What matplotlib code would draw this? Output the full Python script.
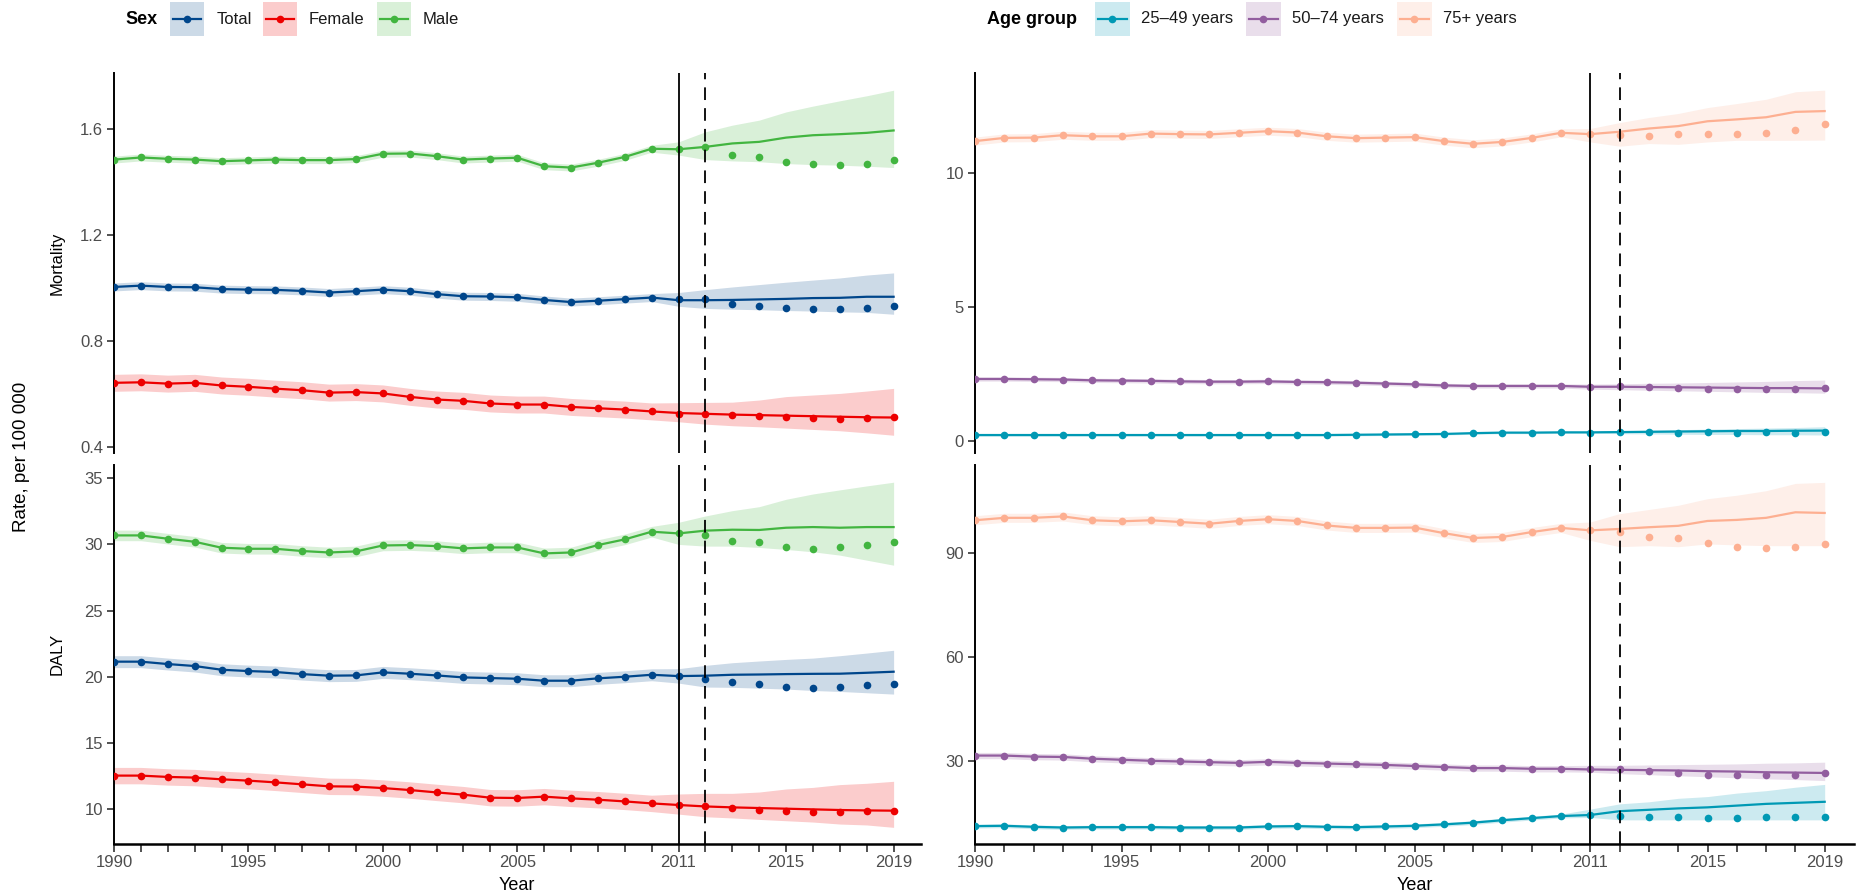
import matplotlib
matplotlib.use("Agg")
import matplotlib.pyplot as plt
from matplotlib.patches import Rectangle
import numpy as np

plt.rcParams['font.family'] = ['Liberation Sans', 'DejaVu Sans']

# ---------------- data ----------------
years = list(range(1990, 2020))
proj_years = list(range(2011, 2020))
xtick_labels = {1990: "1990", 1995: "1995", 2000: "2000", 2005: "2005",
                2011: "2011", 2015: "2015", 2019: "2019"}

sex_labels = ["Total", "Female", "Male"]
age_labels = ["25\u201349 years", "50\u201374 years", "75+ years"]

# Mortality by sex (observed 1990-2019)
mort_total_obs = [1.004, 1.009, 1.004, 1.003, 0.996, 0.994, 0.993, 0.989, 0.983, 0.988,
                  0.994, 0.988, 0.977, 0.969, 0.968, 0.965, 0.955, 0.947, 0.952, 0.958,
                  0.964, 0.959, 0.957, 0.940, 0.934, 0.926, 0.921, 0.921, 0.926, 0.933]
mort_total_proj = [0.954, 0.954, 0.955, 0.957, 0.959, 0.962, 0.963, 0.967, 0.967]
mort_total_lo = [0.931, 0.923, 0.920, 0.918, 0.915, 0.913, 0.910, 0.908, 0.901]
mort_total_hi = [0.983, 0.994, 1.004, 1.013, 1.022, 1.030, 1.038, 1.049, 1.057]
mort_total_band = 0.015

mort_female_obs = [0.642, 0.644, 0.639, 0.642, 0.632, 0.627, 0.620, 0.614, 0.605, 0.607,
                   0.602, 0.589, 0.579, 0.574, 0.564, 0.560, 0.560, 0.551, 0.546, 0.541,
                   0.534, 0.526, 0.524, 0.519, 0.516, 0.513, 0.510, 0.507, 0.510, 0.512]
mort_female_proj = [0.528, 0.525, 0.522, 0.520, 0.518, 0.516, 0.514, 0.512, 0.511]
mort_female_lo = [0.495, 0.486, 0.480, 0.476, 0.471, 0.466, 0.461, 0.453, 0.444]
mort_female_hi = [0.567, 0.568, 0.569, 0.577, 0.590, 0.596, 0.602, 0.611, 0.621]
mort_female_band = 0.032

mort_male_obs = [1.485, 1.493, 1.488, 1.485, 1.479, 1.482, 1.485, 1.483, 1.483, 1.487,
                 1.507, 1.508, 1.498, 1.485, 1.489, 1.492, 1.460, 1.455, 1.473, 1.495,
                 1.526, 1.524, 1.531, 1.504, 1.495, 1.477, 1.469, 1.466, 1.469, 1.482]
mort_male_proj = [1.524, 1.533, 1.546, 1.552, 1.568, 1.577, 1.581, 1.586, 1.595]
mort_male_lo = [1.502, 1.485, 1.480, 1.477, 1.470, 1.466, 1.464, 1.460, 1.455]
mort_male_hi = [1.552, 1.590, 1.615, 1.634, 1.665, 1.687, 1.707, 1.726, 1.747]
mort_male_band = 0.013

# DALY by sex
daly_total_obs = [21.14, 21.14, 20.96, 20.81, 20.53, 20.43, 20.36, 20.20, 20.08, 20.10,
                  20.33, 20.23, 20.10, 19.95, 19.90, 19.85, 19.70, 19.70, 19.88, 20.00,
                  20.15, 20.05, 19.85, 19.57, 19.47, 19.24, 19.17, 19.24, 19.35, 19.47]
daly_total_proj = [20.05, 20.08, 20.15, 20.17, 20.20, 20.22, 20.23, 20.30, 20.38]
daly_total_lo = [19.52, 19.22, 19.20, 19.14, 19.07, 18.96, 18.89, 18.79, 18.69]
daly_total_hi = [20.61, 20.86, 21.06, 21.19, 21.31, 21.41, 21.59, 21.79, 22.00]
daly_total_band = 0.45

daly_female_obs = [12.53, 12.53, 12.43, 12.38, 12.25, 12.15, 12.02, 11.87, 11.72, 11.70,
                   11.59, 11.44, 11.26, 11.09, 10.86, 10.84, 10.94, 10.81, 10.71, 10.58,
                   10.43, 10.31, 10.20, 10.05, 9.95, 9.85, 9.80, 9.78, 9.83, 9.85]
daly_female_proj = [10.31, 10.20, 10.13, 10.08, 10.03, 9.98, 9.93, 9.90, 9.88]
daly_female_lo = [9.62, 9.42, 9.33, 9.22, 9.12, 9.02, 8.87, 8.80, 8.62]
daly_female_hi = [11.14, 11.19, 11.19, 11.29, 11.52, 11.64, 11.85, 11.95, 12.10]
daly_female_band = 0.62

daly_male_obs = [30.68, 30.68, 30.43, 30.20, 29.75, 29.67, 29.67, 29.50, 29.39, 29.47,
                 29.92, 29.95, 29.87, 29.70, 29.77, 29.77, 29.32, 29.39, 29.95, 30.38,
                 30.96, 30.83, 30.73, 30.25, 30.15, 29.77, 29.67, 29.77, 29.95, 30.18]
daly_male_proj = [30.83, 31.04, 31.11, 31.09, 31.26, 31.31, 31.26, 31.31, 31.31]
daly_male_lo = [30.00, 29.87, 29.87, 29.77, 29.62, 29.44, 29.19, 28.81, 28.43]
daly_male_hi = [31.67, 32.15, 32.55, 32.85, 33.41, 33.81, 34.12, 34.42, 34.70]
daly_male_band = 0.40

# Mortality by age group
mort_a1_obs = [0.22, 0.22, 0.22, 0.22, 0.22, 0.22, 0.22, 0.22, 0.22, 0.22,
               0.22, 0.22, 0.22, 0.23, 0.24, 0.25, 0.26, 0.29, 0.31, 0.31,
               0.32, 0.31, 0.32, 0.32, 0.31, 0.32, 0.31, 0.32, 0.31, 0.32]
mort_a1_proj = [0.32, 0.33, 0.34, 0.35, 0.36, 0.37, 0.37, 0.38, 0.385]
mort_a1_lo = [0.29, 0.27, 0.26, 0.25, 0.24, 0.24, 0.23, 0.23, 0.22]
mort_a1_hi = [0.35, 0.38, 0.40, 0.42, 0.44, 0.46, 0.48, 0.50, 0.53]
mort_a1_band = 0.04

mort_a2_obs = [2.31, 2.31, 2.30, 2.29, 2.26, 2.25, 2.24, 2.22, 2.21, 2.21,
               2.22, 2.20, 2.19, 2.17, 2.14, 2.11, 2.07, 2.05, 2.05, 2.05,
               2.05, 2.02, 2.05, 2.00, 1.97, 1.94, 1.93, 1.93, 1.94, 1.96]
mort_a2_proj = [2.02, 2.02, 2.01, 2.00, 1.99, 1.98, 1.97, 1.97, 1.96]
mort_a2_lo = [1.93, 1.91, 1.89, 1.87, 1.85, 1.83, 1.81, 1.80, 1.78]
mort_a2_hi = [2.12, 2.13, 2.15, 2.16, 2.18, 2.20, 2.22, 2.25, 2.27]
mort_a2_band = 0.08

mort_a3_obs = [11.18, 11.30, 11.31, 11.40, 11.36, 11.36, 11.46, 11.44, 11.43, 11.49,
               11.55, 11.50, 11.36, 11.29, 11.31, 11.33, 11.18, 11.08, 11.15, 11.30,
               11.49, 11.44, 11.40, 11.36, 11.44, 11.43, 11.43, 11.48, 11.61, 11.80]
mort_a3_proj = [11.44, 11.53, 11.65, 11.74, 11.92, 11.99, 12.07, 12.27, 12.30]
mort_a3_lo = [11.15, 10.99, 11.09, 11.06, 11.15, 11.21, 11.21, 11.21, 11.22]
mort_a3_hi = [11.65, 11.87, 12.06, 12.21, 12.43, 12.58, 12.74, 13.02, 13.08]
mort_a3_band = 0.15

# DALY by age group
daly_a1_obs = [11.4, 11.5, 11.2, 11.0, 11.1, 11.1, 11.1, 11.0, 11.0, 11.0,
               11.3, 11.4, 11.2, 11.1, 11.3, 11.5, 11.9, 12.4, 13.1, 13.7,
               14.3, 14.6, 14.2, 13.9, 14.0, 13.7, 13.7, 13.9, 14.0, 14.1]
daly_a1_proj = [14.6, 15.7, 16.1, 16.5, 16.8, 17.3, 17.8, 18.1, 18.4]
daly_a1_lo = [13.9, 13.2, 13.2, 13.2, 13.2, 13.2, 13.2, 13.2, 13.2]
daly_a1_hi = [16.3, 17.8, 18.4, 19.4, 19.9, 20.9, 21.6, 22.6, 23.4]
daly_a1_band = 0.55

daly_a2_obs = [31.7, 31.7, 31.4, 31.3, 30.8, 30.5, 30.2, 30.0, 29.8, 29.6,
               29.9, 29.6, 29.4, 29.2, 29.0, 28.7, 28.4, 28.1, 28.1, 27.9,
               27.9, 27.7, 27.9, 27.2, 26.6, 26.1, 26.0, 26.0, 26.1, 26.6]
daly_a2_proj = [27.7, 27.6, 27.5, 27.4, 27.2, 27.1, 26.9, 26.8, 26.7]
daly_a2_lo = [26.9, 26.5, 26.2, 25.9, 25.6, 25.3, 25.0, 24.8, 24.5]
daly_a2_hi = [28.9, 28.9, 29.0, 29.1, 29.2, 29.3, 29.5, 29.6, 29.8]
daly_a2_band = 0.9

daly_a3_obs = [99.4, 100.1, 100.1, 100.5, 99.4, 99.1, 99.4, 98.9, 98.4, 99.2,
               99.7, 99.2, 97.9, 97.2, 97.2, 97.3, 95.7, 94.3, 94.6, 96.0,
               97.2, 96.5, 95.9, 94.5, 94.2, 92.8, 91.8, 91.4, 91.8, 92.7]
daly_a3_proj = [96.5, 96.9, 97.4, 97.8, 99.2, 99.5, 100.1, 101.7, 101.5]
daly_a3_lo = [93.6, 91.8, 92.1, 91.8, 92.6, 92.3, 92.1, 92.1, 92.1]
daly_a3_hi = [98.9, 101.3, 102.5, 103.7, 105.6, 106.6, 107.9, 110.0, 110.3]
daly_a3_band = 1.3

# ---------------- style ----------------
C_TOTAL, C_FEMALE, C_MALE = "#00468B", "#ED0000", "#42B540"
C_A1, C_A2, C_A3 = "#0099B4", "#925E9F", "#FDAF91"
sex_colors = [C_TOTAL, C_FEMALE, C_MALE]
age_colors = [C_A1, C_A2, C_A3]

W, H = 1858, 896
fig = plt.figure(figsize=(W / 100, H / 100), dpi=100)


def ax_px(l, t, r, b):
    return fig.add_axes([l / W, 1 - b / H, (r - l) / W, (b - t) / H])


ax_tl = ax_px(114, 73, 920.5, 453)
ax_bl = ax_px(114, 465, 920.5, 843.5)
ax_tr = ax_px(975, 73, 1854, 453)
ax_br = ax_px(975, 465, 1854, 843.5)

N_HIST = 21  # 1990..2010 use observed for line & band


def draw_series(ax, obs, proj, lo, hi, band, color):
    xs = years[:N_HIST] + proj_years
    hist = np.array(obs[:N_HIST])
    lower = list(hist - band) + list(lo)
    upper = list(hist + band) + list(hi)
    ax.fill_between(xs, lower, upper, color=color, alpha=0.2, lw=0, zorder=1)
    ax.plot(xs, obs[:N_HIST] + proj, color=color, lw=1.6, zorder=3,
            solid_joinstyle='round')
    ax.plot(years, obs, 'o', color=color, ms=5.5, mew=0, zorder=4)


def style_axis(ax, ylim, yticks, yticklabels, bottom):
    ax.set_xlim(1990, 2020)
    ax.set_ylim(*ylim)
    ax.set_yticks(yticks)
    ax.set_yticklabels(yticklabels)
    for s in ['top', 'right']:
        ax.spines[s].set_visible(False)
    ax.spines['left'].set_linewidth(1.4)
    ax.tick_params(axis='y', length=5, width=1.2, color='#333333',
                   labelsize=12, labelcolor='#4d4d4d', pad=3)
    ax.axvline(2011, color='black', lw=1.3, zorder=5)
    ax.axvline(2012, color='black', lw=1.3, ls=(0, (7, 4.5)), zorder=5)
    if bottom:
        ax.spines['bottom'].set_linewidth(1.8)
        ax.set_xticks(years)
        ax.set_xticklabels([xtick_labels.get(y, "") for y in years])
        ax.tick_params(axis='x', length=5.5, width=1.2, color='#333333',
                       labelsize=12, labelcolor='#4d4d4d', pad=3)
    else:
        ax.spines['bottom'].set_visible(False)
        ax.set_xticks([])
    ax.patch.set_alpha(0)


# left: by sex
for obs, proj, lo, hi, band, c in [
        (mort_total_obs, mort_total_proj, mort_total_lo, mort_total_hi, mort_total_band, C_TOTAL),
        (mort_female_obs, mort_female_proj, mort_female_lo, mort_female_hi, mort_female_band, C_FEMALE),
        (mort_male_obs, mort_male_proj, mort_male_lo, mort_male_hi, mort_male_band, C_MALE)]:
    draw_series(ax_tl, obs, proj, lo, hi, band, c)
for obs, proj, lo, hi, band, c in [
        (daly_total_obs, daly_total_proj, daly_total_lo, daly_total_hi, daly_total_band, C_TOTAL),
        (daly_female_obs, daly_female_proj, daly_female_lo, daly_female_hi, daly_female_band, C_FEMALE),
        (daly_male_obs, daly_male_proj, daly_male_lo, daly_male_hi, daly_male_band, C_MALE)]:
    draw_series(ax_bl, obs, proj, lo, hi, band, c)
# right: by age
for obs, proj, lo, hi, band, c in [
        (mort_a1_obs, mort_a1_proj, mort_a1_lo, mort_a1_hi, mort_a1_band, C_A1),
        (mort_a2_obs, mort_a2_proj, mort_a2_lo, mort_a2_hi, mort_a2_band, C_A2),
        (mort_a3_obs, mort_a3_proj, mort_a3_lo, mort_a3_hi, mort_a3_band, C_A3)]:
    draw_series(ax_tr, obs, proj, lo, hi, band, c)
for obs, proj, lo, hi, band, c in [
        (daly_a1_obs, daly_a1_proj, daly_a1_lo, daly_a1_hi, daly_a1_band, C_A1),
        (daly_a2_obs, daly_a2_proj, daly_a2_lo, daly_a2_hi, daly_a2_band, C_A2),
        (daly_a3_obs, daly_a3_proj, daly_a3_lo, daly_a3_hi, daly_a3_band, C_A3)]:
    draw_series(ax_br, obs, proj, lo, hi, band, c)

style_axis(ax_tl, (0.377, 1.812), [0.4, 0.8, 1.2, 1.6], ["0.4", "0.8", "1.2", "1.6"], False)
style_axis(ax_bl, (7.4, 36.0), [10, 15, 20, 25, 30, 35], ["10", "15", "20", "25", "30", "35"], True)
style_axis(ax_tr, (-0.45, 13.72), [0, 5, 10], ["0", "5", "10"], False)
style_axis(ax_br, (6.4, 115.3), [30, 60, 90], ["30", "60", "90"], True)

# ---------------- overlay (labels and legends) ----------------
ov = fig.add_axes([0, 0, 1, 1], zorder=10)
ov.set_xlim(0, W)
ov.set_ylim(H, 0)
ov.axis('off')

ov.text(22, 457, "Rate, per 100 000", rotation=90, ha='center', va='center', fontsize=13.5)
ov.text(57, 263, "Mortality", rotation=90, ha='center', va='center', fontsize=12)
ov.text(57, 654, "DALY", rotation=90, ha='center', va='center', fontsize=12)
ov.text((114 + 920.5) / 2, 885, "Year", ha='center', va='center', fontsize=13)
ov.text((975 + 1854) / 2, 885, "Year", ha='center', va='center', fontsize=13)


def legend_key(x, w, color):
    ov.add_patch(Rectangle((x, 2), w, 34, facecolor=color, alpha=0.2, lw=0))
    ov.plot([x + 3, x + w - 3], [19, 19], color=color, lw=1.6)
    ov.plot([x + w / 2], [19], 'o', color=color, ms=5.5, mew=0)


ov.text(125, 19, "Sex", fontsize=13, fontweight='bold', ha='left', va='center')
for kx, tx, lab, c in zip([170, 263, 377], [217, 309, 423], sex_labels, sex_colors):
    legend_key(kx, 34, c)
    ov.text(tx, 19, lab, fontsize=12, ha='left', va='center', color='#1a1a1a')

ov.text(987, 19, "Age group", fontsize=13, fontweight='bold', ha='left', va='center')
for kx, tx, lab, c in zip([1095, 1246, 1397], [1141, 1292, 1443], age_labels, age_colors):
    legend_key(kx, 35, c)
    ov.text(tx, 19, lab, fontsize=12, ha='left', va='center', color='#1a1a1a')

fig.savefig("out.png", dpi=100)
